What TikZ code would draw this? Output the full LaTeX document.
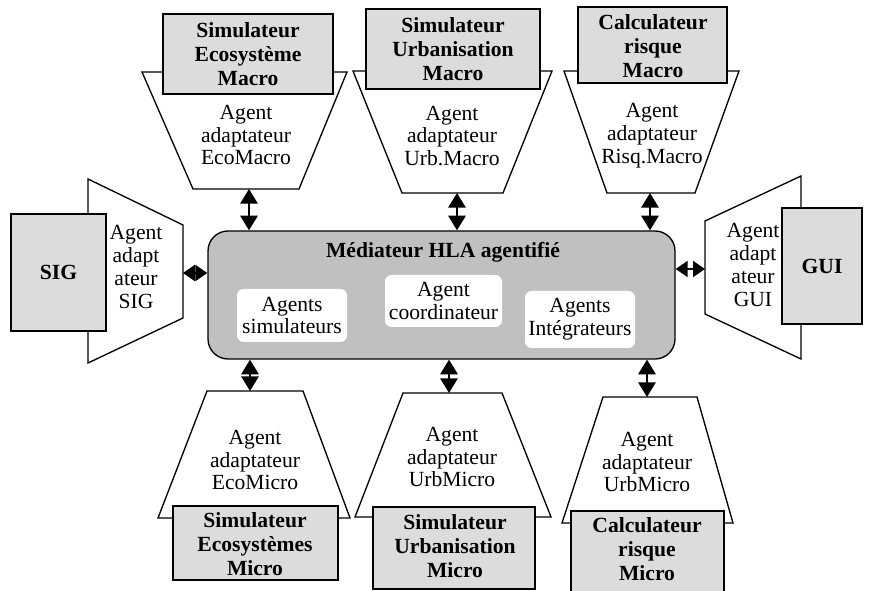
\documentclass[tikz,border=0pt]{standalone}
\usepackage{fontspec}
\setmainfont{Liberation Serif}
\usetikzlibrary{arrows.meta,fit}
\definecolor{boxgray}{HTML}{DCDCDC}
\definecolor{medgray}{HTML}{C0C0C0}
\tikzset{
  trap/.style={draw=black, line width=1pt, fill=white, line join=miter},
  simbox/.style={draw=black, line width=1pt, fill=boxgray, inner sep=0pt},
  medbox/.style={draw=black, line width=1pt, fill=medgray, inner sep=0pt, rounded corners=15pt},
  innerbox/.style={fill=white, inner sep=0pt, rounded corners=5pt},
  btxt/.style={align=center, font=\fontsize{16.2}{18}\selectfont\bfseries, inner sep=0pt},
  ntxt/.style={align=center, font=\fontsize{16.2}{17.2}\selectfont, inner sep=0pt},
  dbl/.style={line width=1.6pt, {Triangle[length=11pt,width=13pt]}-{Triangle[length=11pt,width=13pt]}},
  dblh/.style={line width=1.6pt, {Triangle[length=9pt,width=12pt]}-{Triangle[length=9pt,width=12pt]}}
}
\begin{document}
\begin{tikzpicture}[x=0.75pt,y=-0.75pt]
\clip (0,0) rectangle (869,591);
\useasboundingbox (0,0) rectangle (869,591);

% Mediator
\node[medbox, fit={(208,231)(675,359)}] (med) {};
\node[btxt] (medtitle) at (443,252) {Médiateur HLA agentifié};
\node[innerbox, fit={(237,289)(347,342)}] (isim) {};
\node[ntxt] (isimt) at (isim.center) {Agents\\simulateurs};
\node[innerbox, fit={(385,275)(502,327)}] (icoo) {};
\node[ntxt] (icoot) at (icoo.center) {Agent\\coordinateur};
\node[innerbox, fit={(525,291)(635,348)}] (iint) {};
\node[ntxt] (iintt) at (iint.center) {Agents\\Intégrateurs};

% Top trapezoids
\draw[trap] (142,72) -- (347,72) -- (299,189) -- (193,189) -- cycle;
\coordinate (a1) at (249,189);
\node[ntxt] (t1) at (246,135) {Agent\\adaptateur\\EcoMacro};
\draw[trap] (353,71) -- (552,71) -- (503,193) -- (402,193) -- cycle;
\coordinate (a2) at (457,193);
\node[ntxt] (t2) at (452,136) {Agent\\adaptateur\\Urb.Macro};
\draw[trap] (564,71) -- (739,71) -- (695,193) -- (607,193) -- cycle;
\coordinate (a3) at (650,193);
\node[ntxt] (t3) at (652,136) {Agent\\adaptateur\\Risq.Macro};

% Top boxes
\node[simbox, fit={(163,14)(333,94)}] (b1) {};
\node[btxt] (b1t) at (248,54) {Simulateur\\Ecosystème\\Macro};
\node[simbox, fit={(366,9)(540,89)}] (b2) {};
\node[btxt] (b2t) at (453,49) {Simulateur\\Urbanisation\\Macro};
\node[simbox, fit={(578,7)(727,83)}] (b3) {};
\node[btxt] (b3t) at (653,46) {Calculateur\\risque\\Macro};

% Left SIG
\draw[trap] (88,179) -- (183,225) -- (183,318) -- (88,363) -- cycle;
\coordinate (aS) at (183,273);
\node[ntxt] (tS) at (136,267) {Agent\\adapt\\ateur\\SIG};
\node[simbox, fit={(11,214)(106,331)}] (sig) {};
\node[btxt] (sigt) at (sig.center) {SIG};

% Right GUI
\draw[trap] (801,176) -- (705,221) -- (705,314) -- (801,359) -- cycle;
\coordinate (aG) at (705,269);
\node[ntxt] (tG) at (753,265) {Agent\\adapt\\ateur\\GUI};
\node[simbox, fit={(782,208)(862,324)}] (gui) {};
\node[btxt] (guit) at (gui.center) {GUI};

% Bottom trapezoids
\draw[trap] (207,391) -- (303,391) -- (350,518) -- (158,518) -- cycle;
\coordinate (a4) at (250,391);
\node[ntxt] (t4) at (255,460) {Agent\\adaptateur\\EcoMicro};
\draw[trap] (403,393) -- (502,393) -- (551,517) -- (355,517) -- cycle;
\coordinate (a5) at (449,393);
\node[ntxt] (t5) at (452,457) {Agent\\adaptateur\\UrbMicro};
\draw[trap] (603,397) -- (697,397) -- (733,523) -- (562,523) -- cycle;
\coordinate (a6) at (647,397);
\node[ntxt] (t6) at (647,462) {Agent\\adaptateur\\UrbMicro};

% Bottom boxes
\node[simbox, fit={(173,506)(338,580)}] (b4) {};
\node[btxt] (b4t) at (255,544) {Simulateur\\Ecosystèmes\\Micro};
\node[simbox, fit={(373,507)(535,589)}] (b5) {};
\node[btxt] (b5t) at (455,546) {Simulateur\\Urbanisation\\Micro};
\node[simbox, fit={(571,511)(724,600)}] (b6) {};
\node[btxt] (b6t) at (647,549) {Calculateur\\risque\\Micro};

% Connectors
\draw[dbl] (a1) -- (a1 |- med.north);
\draw[dbl] (a2) -- (a2 |- med.north);
\draw[dbl] (a3) -- (a3 |- med.north);
\draw[dblh] (aS) -- (aS -| med.west);
\draw[dblh] (med.east |- aG) -- (aG);
\draw[dbl] (a4 |- med.south) -- (a4);
\draw[dbl] (a5 |- med.south) -- (a5);
\draw[dbl] (a6 |- med.south) -- (a6);
\end{tikzpicture}
\end{document}
